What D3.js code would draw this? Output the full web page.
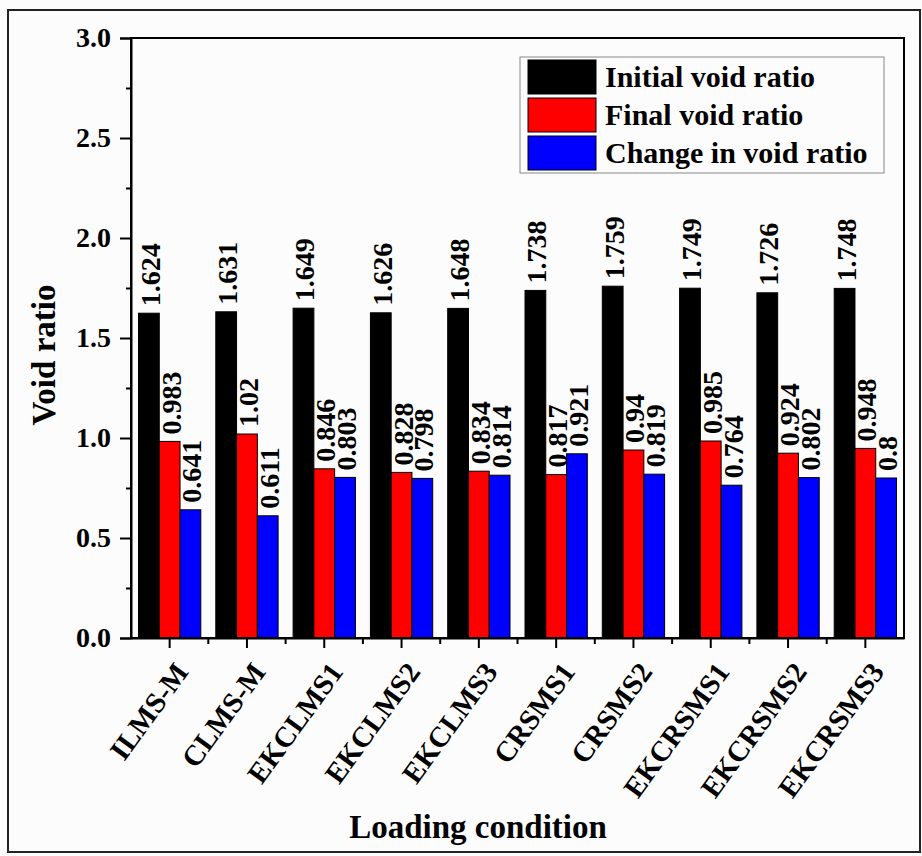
<!DOCTYPE html>
<html>
<head>
  <meta charset="utf-8">
  <script src="https://d3js.org/d3.v7.min.js"></script>
  <style>
  body { margin: 0; background: #fcfcfc; }
  text { font-family: "Liberation Serif", "Times New Roman", serif; font-weight: bold; fill: #000; }
  </style>
</head>
<body>
<div id="chart"></div>
<script>
const categories = ["ILMS-M", "CLMS-M", "EKCLMS1", "EKCLMS2", "EKCLMS3",
                    "CRSMS1", "CRSMS2", "EKCRSMS1", "EKCRSMS2", "EKCRSMS3"];
const initialVoid = [1.624, 1.631, 1.649, 1.626, 1.648, 1.738, 1.759, 1.749, 1.726, 1.748];
const finalVoid   = [0.983, 1.02, 0.846, 0.828, 0.834, 0.817, 0.94, 0.985, 0.924, 0.948];
const changeVoid  = [0.641, 0.611, 0.803, 0.798, 0.814, 0.921, 0.819, 0.764, 0.802, 0.8];
const seriesNames = ["Initial void ratio", "Final void ratio", "Change in void ratio"];
const seriesColors = ["#000000", "#ff0000", "#0000ff"];
const yTicks = [0, 0.5, 1.0, 1.5, 2.0, 2.5, 3.0];
const yMinorTicks = [0.25, 0.75, 1.25, 1.75, 2.25, 2.75];

const margin = { top: 38, right: 18, bottom: 218, left: 131 };
const W = 922, H = 856;
const width = W - margin.left - margin.right;
const height = H - margin.top - margin.bottom;

const svg = d3.select("#chart")
              .append("svg")
              .attr("width", W)
              .attr("height", H);

// outer frame of the figure
svg.append("rect")
   .attr("x", 8).attr("y", 10)
   .attr("width", 912).attr("height", 842)
   .attr("fill", "none")
   .attr("stroke", "#222")
   .attr("stroke-width", 2);

const g = svg.append("g")
             .attr("transform", `translate(${margin.left},${margin.top})`);

const x0 = d3.scaleBand()
             .domain(categories)
             .range([0, width])
             .padding(0);
const bw = x0.bandwidth();
const x1 = d3.scaleBand()
             .domain(seriesNames)
             .range([7.5, bw - 7.5])
             .padding(0);
const y = d3.scaleLinear()
            .domain([0, 3])
            .range([height, 0]);

const rows = categories.map(function(c, i) {
  return { cat: c, values: [initialVoid[i], finalVoid[i], changeVoid[i]] };
});

// bars
const groups = g.selectAll(".grp")
                .data(rows)
                .enter().append("g")
                .attr("transform", d => `translate(${x0(d.cat)},0)`);

groups.selectAll("rect")
      .data(d => d.values.map((v, k) => ({ name: seriesNames[k], v: v, k: k })))
      .enter().append("rect")
      .attr("x", d => x1(d.name))
      .attr("y", d => y(d.v))
      .attr("width", x1.bandwidth())
      .attr("height", d => height - y(d.v))
      .attr("fill", d => seriesColors[d.k])
      .attr("stroke", "#000")
      .attr("stroke-width", 1);

// value labels
groups.selectAll("text")
      .data(d => d.values.map((v, k) => ({ name: seriesNames[k], v: v, k: k })))
      .enter().append("text")
      .attr("transform", d => `translate(${x1(d.name) + x1.bandwidth() / 2 + 11},${y(d.v) - 7}) rotate(-90)`)
      .attr("text-anchor", "start")
      .style("font-size", "28px")
      .text(d => String(d.v));

// frame of plot area
g.append("rect")
 .attr("width", width).attr("height", height)
 .attr("fill", "none")
 .attr("stroke", "#000")
 .attr("stroke-width", 2);

// y axis
const yAxis = g.append("g")
               .call(d3.axisLeft(y).tickValues(yTicks).tickSize(11).tickPadding(9)
                       .tickFormat(d3.format(".1f")));
yAxis.selectAll("text").style("font-size", "28px");
yAxis.selectAll("line").attr("stroke-width", 2);
yAxis.select(".domain").attr("stroke-width", 2);

const yMinor = g.append("g")
                .call(d3.axisLeft(y).tickValues(yMinorTicks).tickSize(5).tickFormat(""));
yMinor.select(".domain").remove();
yMinor.selectAll("line").attr("stroke-width", 2);

// x axis: major ticks at category centres, minor ticks at boundaries
const xAxis = g.append("g")
               .attr("transform", `translate(0,${height})`)
               .call(d3.axisBottom(x0).tickSize(10).tickSizeOuter(0).tickFormat(""));
xAxis.selectAll("line").attr("stroke-width", 2);
xAxis.select(".domain").attr("stroke-width", 2);

const bounds = categories.slice(1).map(c => x0(c));
g.append("g")
 .selectAll("line")
 .data(bounds)
 .enter().append("line")
 .attr("x1", d => d).attr("x2", d => d)
 .attr("y1", height).attr("y2", height + 6)
 .attr("stroke", "#000")
 .attr("stroke-width", 2);

g.append("g")
 .selectAll("text")
 .data(categories)
 .enter().append("text")
 .attr("transform", d => `translate(${x0(d) + bw / 2 + 20},${height + 34}) rotate(-54)`)
 .attr("text-anchor", "end")
 .style("font-size", "29px")
 .text(d => d);

// axis titles
svg.append("text")
   .attr("transform", "translate(55,355) rotate(-90)")
   .attr("text-anchor", "middle")
   .style("font-size", "33px")
   .text("Void ratio");

svg.append("text")
   .attr("x", 478)
   .attr("y", 838)
   .attr("text-anchor", "middle")
   .style("font-size", "33px")
   .text("Loading condition");

// legend
const legend = svg.append("g");
legend.append("rect")
      .attr("x", 520).attr("y", 57)
      .attr("width", 364).attr("height", 116)
      .attr("fill", "#fcfcfc")
      .attr("stroke", "#888")
      .attr("stroke-width", 1);
seriesNames.forEach(function(name, k) {
  legend.append("rect")
        .attr("x", 528).attr("y", 60 + k * 38)
        .attr("width", 68).attr("height", 34)
        .attr("fill", seriesColors[k])
        .attr("stroke", "#000")
        .attr("stroke-width", 1);
  legend.append("text")
        .attr("x", 605).attr("y", 87 + k * 38)
        .style("font-size", "30px")
        .text(name);
});
</script>
</body>
</html>
